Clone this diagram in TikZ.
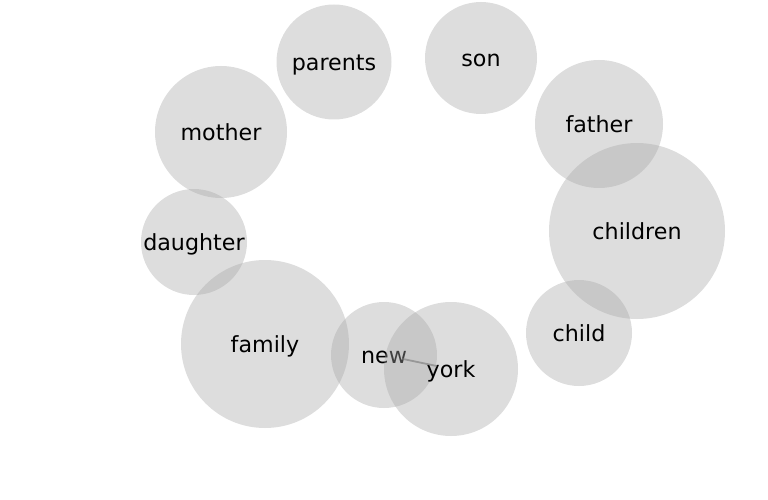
\documentclass[tikz,border=0pt]{standalone}
\usepackage{fontspec}
\setmainfont{DejaVu Sans}
\definecolor{bubblegray}{RGB}{166,166,166}
\definecolor{linkgray}{RGB}{120,120,120}

\begin{document}
\begin{tikzpicture}[
		x=1pt, y=-1pt,
		every node/.style={circle,fill=bubblegray,fill opacity=0.38,text opacity=1,inner sep=0pt,
			font=\fontsize{22.2}{24}\selectfont,text height=20.9pt,text depth=3.9pt},
		word/.style={minimum size=2*#1 pt},
		link/.style={draw=linkgray,opacity=0.6,line width=1.8pt}
		]
		\useasboundingbox (0,0) rectangle (768,500);
		\node[word=57.5] (parents) at (334,62) {parents};
		\node[word=56] (son) at (481,58) {son};
		\node[word=64] (father) at (599,124) {father};
		\node[word=66] (mother) at (221,132) {mother};
		\node[word=53] (daughter) at (194,242) {daughter};
		\node[word=88] (children) at (637,231) {children};
		\node[word=53] (child) at (579,333) {child};
		\node[word=84] (family) at (265,344) {family};
		\node[word=53] (new) at (384,355) {new};
		\node[word=67] (york) at (451,369) {york};
		\draw[link,shorten <=18.5pt,shorten >=14.5pt] (new.center) -- (york.center);
	\end{tikzpicture}
\end{document}
